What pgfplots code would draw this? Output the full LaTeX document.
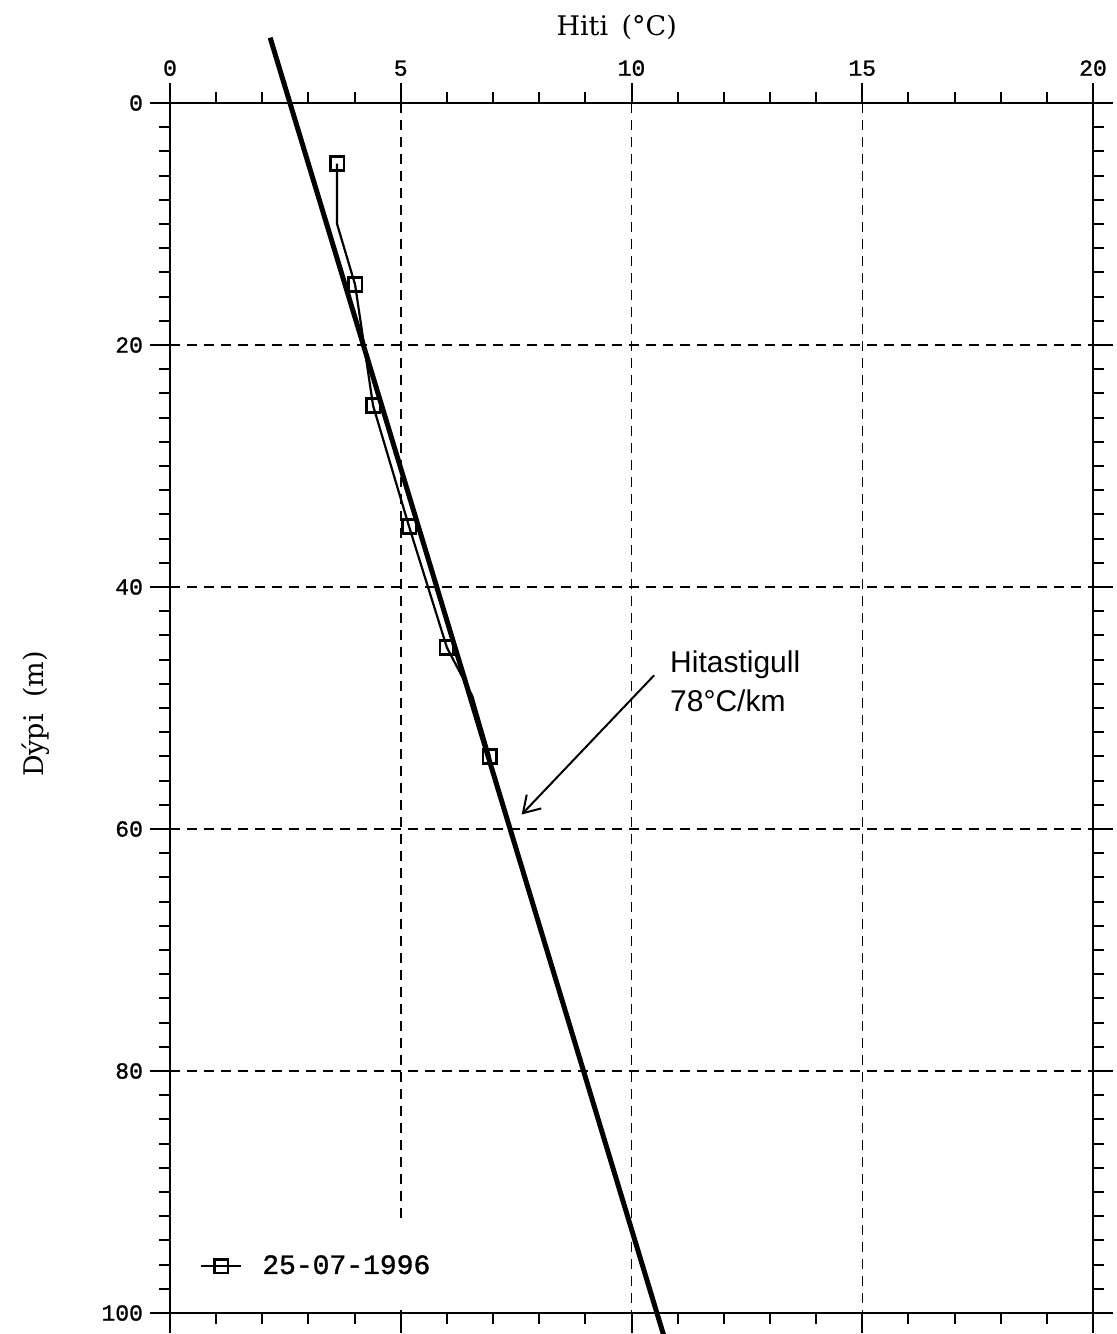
\documentclass[border=0pt]{standalone}
\usepackage{pgfplots}
\pgfplotsset{compat=1.18}
\usepackage{fontspec}
\setmainfont{DejaVu Serif}
\setmonofont{Liberation Mono}
\newfontfamily\tickfont{Liberation Mono}[FakeBold=1.2]
\newfontfamily\helv{Liberation Sans}
\usetikzlibrary{arrows.meta}
\begin{document}
\begin{tikzpicture}
\begin{axis}[
  at={(0,0)}, anchor=south west,
  width=461.5pt, height=605pt, scale only axis,
  xmin=0, xmax=20, ymin=0, ymax=100,
  y dir=reverse,
  xtick={0,5,10,15,20}, ytick={0,20,40,60,80,100},
  minor x tick num=4, minor y tick num=9,
  xticklabel pos=upper,
  tick align=outside,
  major tick length=10pt, minor tick length=5.5pt,
  every tick/.style={black, line width=1pt},
  axis line style={line width=1.2pt},
  grid=major,
  major grid style={dash pattern=on 5pt off 3.5pt, line width=0.75pt, black},
  clip=false,
  /pgf/number format/assume math mode=true,
  ticklabel style={font=\tickfont\fontsize{11.5}{13}\selectfont},
  xlabel={Hiti\hspace{0.5em}(°C)},
  xlabel style={at={(axis description cs:0.484,1)}, anchor=base, yshift=34pt, font=\fontsize{13.5}{15}\selectfont},
  ylabel={Dýpi\hspace{0.6em}(m)},
  ylabel style={at={(axis description cs:-0.146,0.495)}, anchor=center, font=\fontsize{13.5}{15}\selectfont},
  legend style={at={(0.004,0.003)}, anchor=south west, draw=none, fill=white,
    inner xsep=13pt, inner ysep=14pt, font=\tickfont\fontsize{14}{16}\selectfont},
  legend cell align=left,
  legend image code/.code={\draw[#1, mark indices={2}] plot coordinates {(0pt,0pt)(10pt,0pt)(20pt,0pt)};},
]
\addplot[black, line width=2.5pt, forget plot] coordinates {(2.17,-5.4)(10.71,102)};
\addplot[black, line width=1.1pt, mark=square, mark size=3.4pt, mark options={solid, line width=1.3pt},
  mark indices={1,3,4,5,6,8}] coordinates {
  (3.62,5) (3.62,10) (4.01,15) (4.40,25) (5.18,35) (6.00,45) (6.55,49) (6.93,54)};
\addlegendentry{\hspace{8pt}25-07-1996}
\draw[line width=1pt, -{Straight Barb[length=8pt, width=10pt, line width=1pt]}] (axis cs:10.49,47.3) -- (axis cs:7.62,58.8);
\node[anchor=north west, inner sep=0pt, align=left, font=\helv\fontsize{15}{19.5}\selectfont] at (axis cs:10.83,45.25) {Hitastigull\\78°C/km};
\end{axis}
\pgfresetboundingbox
\useasboundingbox (-85pt,-10.5pt) rectangle (473pt,656.5pt);
\end{tikzpicture}
\end{document}
